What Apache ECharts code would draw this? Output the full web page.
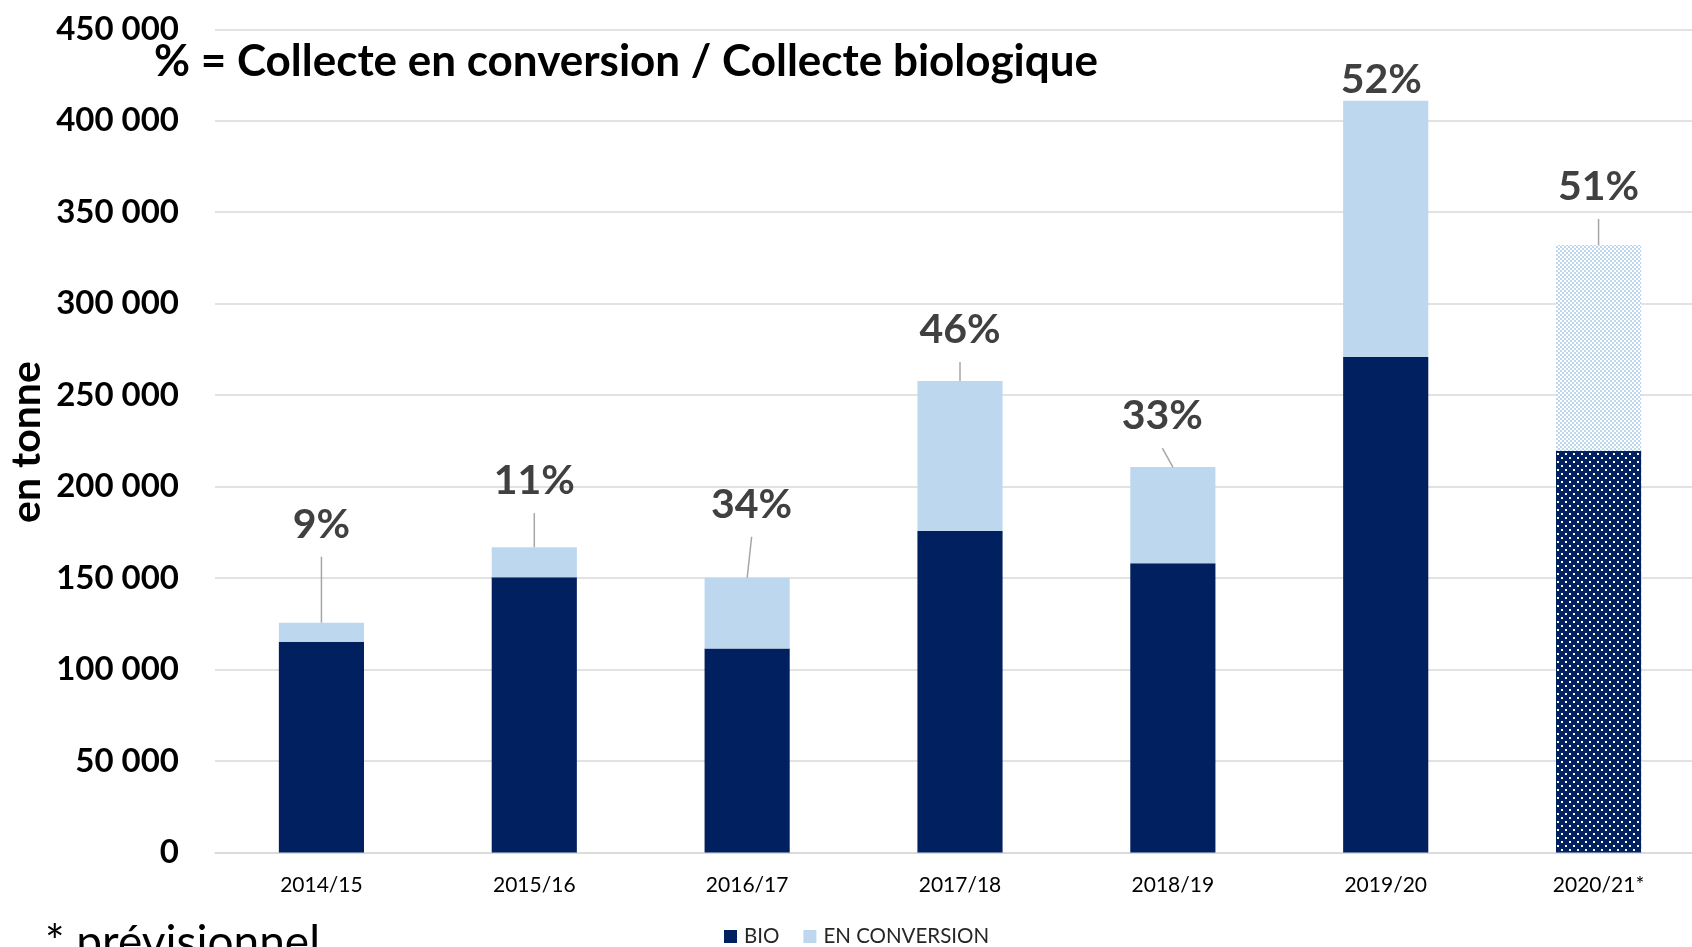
<!DOCTYPE html>
<html><head><meta charset="utf-8">
<script src="https://cdn.jsdelivr.net/npm/echarts@6/dist/echarts.min.js"></script>
<style>html,body{margin:0;padding:0;background:#fff;overflow:hidden}#c{width:1712px;height:947px}</style>
</head><body><div id="c"></div>
<script>
// ---- data ----
const categories = ['2014/15','2015/16','2016/17','2017/18','2018/19','2019/20','2020/21*'];
const bio = [115200, 150400, 111500, 175800, 158100, 270800, 219500];
const conversion = [10400, 16500, 38700, 81900, 52600, 140200, 112600];
const pctLabels = ['9%','11%','34%','46%','33%','52%','51%'];
const seriesNames = ['BIO', 'EN CONVERSION'];
const titleText = '% = Collecte en conversion / Collecte biologique';
const yAxisTitle = 'en tonne';
const footnote = '* prévisionnel';

// ---- styles ----
const NAVY = '#002060', LIGHT = '#BDD7EE';
const labelLift = [98, 66, 73, 51, 51, 21, 58];
const labelShiftX = [0, 0, 4.5, 0, -10.5, -4.5, 0];

function makePattern(bg, fg, size, cells) {
  const cv = document.createElement('canvas');
  cv.width = size; cv.height = size;
  const ctx = cv.getContext('2d');
  ctx.fillStyle = bg; ctx.fillRect(0, 0, size, size);
  ctx.fillStyle = fg;
  cells.forEach(c => ctx.fillRect(c[0], c[1], c[2], c[3]));
  return {image: cv, repeat: 'repeat'};
}
const bioPattern = makePattern(NAVY, '#ffffff', 8, [[1,1,2,2],[5,5,2,2]]);
const convPattern = makePattern(LIGHT, '#ffffff', 4, [[0,0,2,2],[2,2,2,2]]);

const last = categories.length - 1;
const bioData = bio.map((v, i) => i === last ? {value: v, itemStyle: {color: bioPattern}} : v);
const convData = conversion.map((v, i) => i === last ? {value: v, itemStyle: {color: convPattern}} : v);
const totals = bio.map((v, i) => [i, v + conversion[i]]);

function fmt(v) { return String(v).replace(/\B(?=(\d{3})+(?!\d))/g, ' '); }

const chart = echarts.init(document.getElementById('c'));
chart.setOption({
  animation: false,
  backgroundColor: '#fff',
  grid: {left: 215, width: 1490, top: 29.3, bottom: 94.5, containLabel: false},
  xAxis: {
    type: 'category', data: categories,
    axisLine: {lineStyle: {color: '#d9d9d9', width: 1.5}},
    axisTick: {show: false},
    axisLabel: {fontFamily: 'Lato', fontSize: 21, color: '#000', margin: 22}
  },
  yAxis: {
    type: 'value', min: 0, max: 450000, interval: 50000,
    axisLine: {show: false}, axisTick: {show: false},
    splitLine: {lineStyle: {color: '#d9d9d9', width: 1.5}},
    axisLabel: {fontFamily: 'Lato', fontWeight: 'bold', fontSize: 33, color: '#000', margin: 36, formatter: fmt}
  },
  legend: {
    data: seriesNames, left: 724, top: 926, padding: 0, icon: 'rect', itemWidth: 13, itemHeight: 13, itemGap: 24,
    textStyle: {fontFamily: 'Lato', fontSize: 20.5, color: '#262626', padding: [0,0,0,2]}
  },
  graphic: [
    {type: 'text', x: 626, y: 62, style: {text: titleText, font: 'bold 44px Lato', fill: '#000', align: 'center', verticalAlign: 'middle'}},
    {type: 'text', x: 27, y: 442, rotation: Math.PI / 2, style: {text: yAxisTitle, font: 'bold 41px Lato', fill: '#000', align: 'center', verticalAlign: 'middle'}},
    {type: 'text', x: 45, y: 920, style: {text: footnote, font: '46px Lato', fill: '#000', align: 'left', verticalAlign: 'top'}}
  ],
  series: [
    {name: seriesNames[0], type: 'bar', stack: 's', barWidth: '40%', data: bioData, itemStyle: {color: NAVY}},
    {name: seriesNames[1], type: 'bar', stack: 's', barWidth: '40%', data: convData, itemStyle: {color: LIGHT}},
    {
      type: 'custom', data: totals, z: 10, silent: true,
      encode: {x: 0, y: 1},
      renderItem: function (params, api) {
        const i = api.value(0), tot = api.value(1);
        const p = api.coord([i, tot]);
        const lift = labelLift[i], dx = labelShiftX[i];
        const cx = p[0] + dx, cy = p[1] - lift;
        const children = [{type: 'text', style: {text: pctLabels[i], x: cx, y: cy, align: 'center', verticalAlign: 'middle', font: 'bold 41px Lato', fill: '#404040'}}];
        if (lift > 40) children.push({type: 'line', shape: {x1: p[0], y1: p[1], x2: cx, y2: cy + 32}, style: {stroke: '#a6a6a6', lineWidth: 1.5}});
        return {type: 'group', children: children};
      }
    }
  ]
});
</script></body></html>
